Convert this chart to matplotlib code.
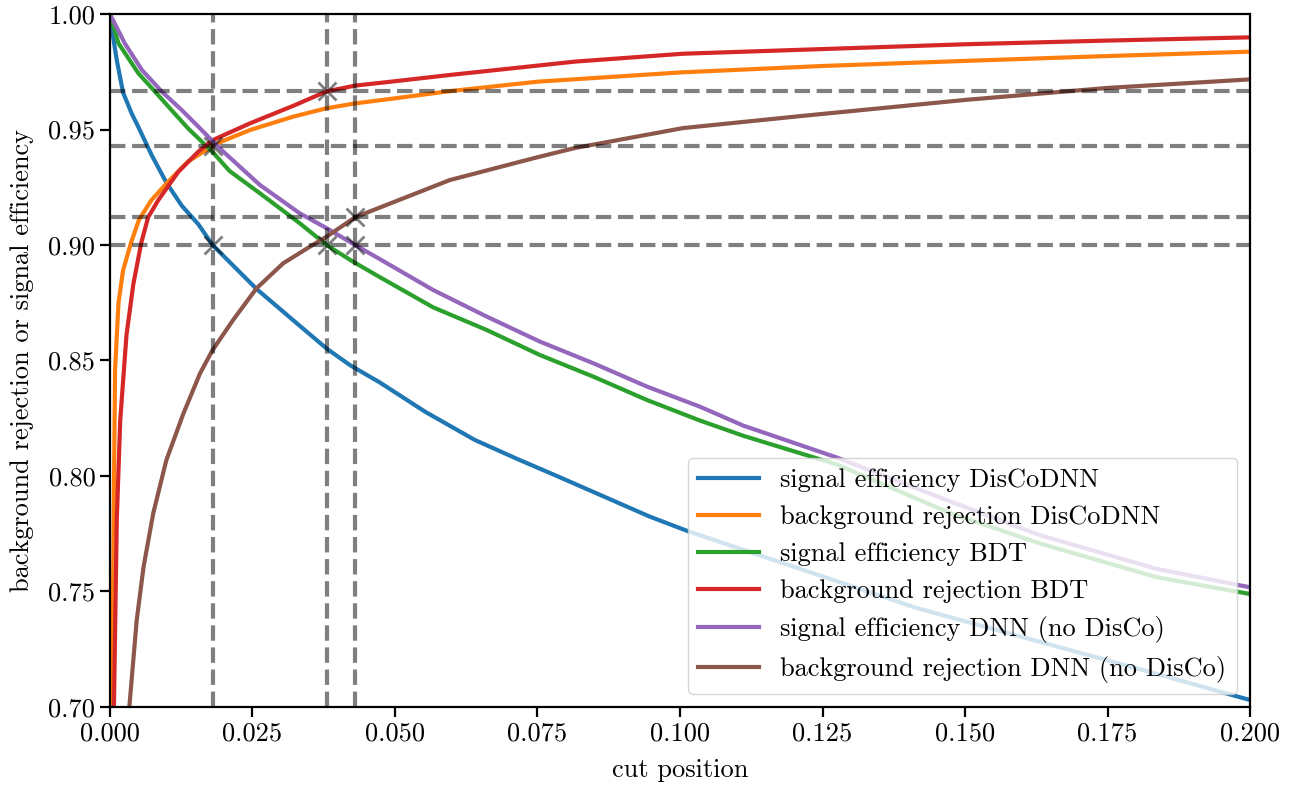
import matplotlib
matplotlib.use("Agg")
import matplotlib.pyplot as plt

plt.rcParams['font.family'] = ['cmr10', 'DejaVu Serif']
plt.rcParams['axes.formatter.use_mathtext'] = True
plt.rcParams['axes.unicode_minus'] = False

# values
cut_sig_disco = [0.0, 0.0003, 0.0012, 0.0023, 0.0038, 0.005, 0.0073, 0.0099, 0.0126, 0.0155,
                 0.018, 0.0257, 0.0333, 0.0381, 0.0421, 0.0474, 0.0553, 0.064, 0.0716, 0.0784,
                 0.0947, 0.1015, 0.1413, 0.1826, 0.2]
sig_eff_disco = [1.0, 0.994, 0.980, 0.966, 0.957, 0.951, 0.939, 0.927, 0.917, 0.909,
                 0.900, 0.881, 0.865, 0.855, 0.848, 0.8404, 0.8278, 0.8156, 0.8072, 0.800,
                 0.7824, 0.776, 0.743, 0.715, 0.703]

cut_bkg_disco = [0.0004, 0.0007, 0.0009, 0.0015, 0.0023, 0.0037, 0.0051, 0.0073, 0.0102, 0.0137,
                 0.0178, 0.0196, 0.0246, 0.0322, 0.038, 0.043, 0.05, 0.0596, 0.075, 0.1,
                 0.125, 0.15, 0.175, 0.2]
bkg_rej_disco = [0.700, 0.795, 0.846, 0.875, 0.889, 0.901, 0.911, 0.9195, 0.9274, 0.9361,
                 0.9426, 0.9448, 0.9498, 0.9556, 0.9592, 0.9613, 0.9635, 0.9666, 0.9707, 0.9747,
                 0.9775, 0.9797, 0.9818, 0.9837]

cut_sig_bdt = [0.0, 0.0015, 0.005, 0.0079, 0.0108, 0.0137, 0.0181, 0.021, 0.0263, 0.0333,
               0.038, 0.0425, 0.0474, 0.0567, 0.0661, 0.0754, 0.0848, 0.0942, 0.1035, 0.1111,
               0.1275, 0.1474, 0.1631, 0.1836, 0.2]
sig_eff_bdt = [1.0, 0.9873, 0.9743, 0.9664, 0.9584, 0.9505, 0.940, 0.932, 0.9224, 0.9094,
               0.900, 0.893, 0.886, 0.873, 0.8632, 0.8524, 0.843, 0.8329, 0.824, 0.8174,
               0.805, 0.7839, 0.7708, 0.7562, 0.7489]

cut_bkg_bdt = [0.0007, 0.0012, 0.0018, 0.0029, 0.0041, 0.0055, 0.0067, 0.0085, 0.012, 0.0155,
               0.0181, 0.0246, 0.0322, 0.038, 0.043, 0.05, 0.0596, 0.0816, 0.1005, 0.1211,
               0.15, 0.175, 0.2]
bkg_rej_bdt = [0.700, 0.781, 0.824, 0.861, 0.883, 0.901, 0.912, 0.9195, 0.9317, 0.9404,
               0.9455, 0.9527, 0.9603, 0.9665, 0.9690, 0.9709, 0.9736, 0.9794, 0.9828, 0.9845,
               0.9869, 0.9885, 0.9899]

cut_sig_dnn = [0.0, 0.0026, 0.0056, 0.0091, 0.0126, 0.0158, 0.0181, 0.0199, 0.0263, 0.0333,
               0.038, 0.043, 0.0474, 0.0567, 0.0661, 0.0754, 0.0848, 0.0942, 0.1035, 0.1111,
               0.1275, 0.1474, 0.1631, 0.1836, 0.2]
sig_eff_dnn = [1.0, 0.9873, 0.9758, 0.9664, 0.9584, 0.9505, 0.9447, 0.9404, 0.926, 0.9137,
               0.9073, 0.900, 0.8938, 0.8805, 0.869, 0.8582, 0.8488, 0.8387, 0.830, 0.8218,
               0.808, 0.789, 0.7744, 0.7598, 0.7518]

cut_bkg_dnn = [0.0034, 0.0047, 0.0059, 0.0076, 0.0099, 0.0129, 0.0158, 0.018, 0.0216, 0.0257,
               0.0304, 0.0351, 0.038, 0.043, 0.0596, 0.075, 0.0816, 0.1005, 0.1211, 0.15,
               0.175, 0.2]
bkg_rej_dnn = [0.700, 0.7377, 0.7607, 0.7839, 0.8069, 0.8271, 0.8444, 0.8545, 0.8675, 0.8812,
               0.8921, 0.8993, 0.9036, 0.912, 0.9281, 0.938, 0.942, 0.9506, 0.9558, 0.9628,
               0.968, 0.9717]

# working points (cut where signal efficiency is 0.9)
wp_cut = [0.018, 0.038, 0.043]
wp_sig = [0.9, 0.9, 0.9]
wp_bkg = [0.943, 0.9667, 0.912]

fig = plt.figure(figsize=(12.95, 7.87), dpi=100)
ax = fig.add_axes([0.0849, 0.1017, 0.8804, 0.8805])

lw = 3
ax.plot(cut_sig_disco, sig_eff_disco, color='C0', lw=lw, label='signal efficiency DisCoDNN')
ax.plot(cut_bkg_disco, bkg_rej_disco, color='C1', lw=lw, label='background rejection DisCoDNN')
ax.plot(cut_sig_bdt, sig_eff_bdt, color='C2', lw=lw, label='signal efficiency BDT')
ax.plot(cut_bkg_bdt, bkg_rej_bdt, color='C3', lw=lw, label='background rejection BDT')
ax.plot(cut_sig_dnn, sig_eff_dnn, color='C4', lw=lw, label='signal efficiency DNN (no DisCo)')
ax.plot(cut_bkg_dnn, bkg_rej_dnn, color='C5', lw=lw, label='background rejection DNN (no DisCo)')

for c in wp_cut:
    ax.axvline(c, color='k', alpha=0.5, ls='--', lw=lw)
for h in sorted(set(wp_sig + wp_bkg)):
    ax.axhline(h, color='k', alpha=0.5, ls='--', lw=lw)
ax.plot(wp_cut, wp_sig, 'x', color='k', alpha=0.5, ms=13, mew=2)
ax.plot(wp_cut, wp_bkg, 'x', color='k', alpha=0.5, ms=13, mew=2)

ax.set_xlim(0, 0.2)
ax.set_ylim(0.7, 1.0)
ax.set_xticks([0.0, 0.025, 0.05, 0.075, 0.1, 0.125, 0.15, 0.175, 0.2])
ax.set_xticklabels(['0.000', '0.025', '0.050', '0.075', '0.100', '0.125', '0.150', '0.175', '0.200'])
ax.set_yticks([0.7, 0.75, 0.8, 0.85, 0.9, 0.95, 1.0])
ax.set_yticklabels(['0.70', '0.75', '0.80', '0.85', '0.90', '0.95', '1.00'])
ax.tick_params(labelsize=19, length=7, width=1.6)
for sp in ax.spines.values():
    sp.set_linewidth(1.6)
ax.set_xlabel('cut position', fontsize=19, labelpad=9)
ax.set_ylabel('background rejection or signal efficiency', fontsize=19, labelpad=10)
ax.legend(loc='lower right', fontsize=19, handlelength=2.3)

fig.savefig('out.png', dpi=100)
